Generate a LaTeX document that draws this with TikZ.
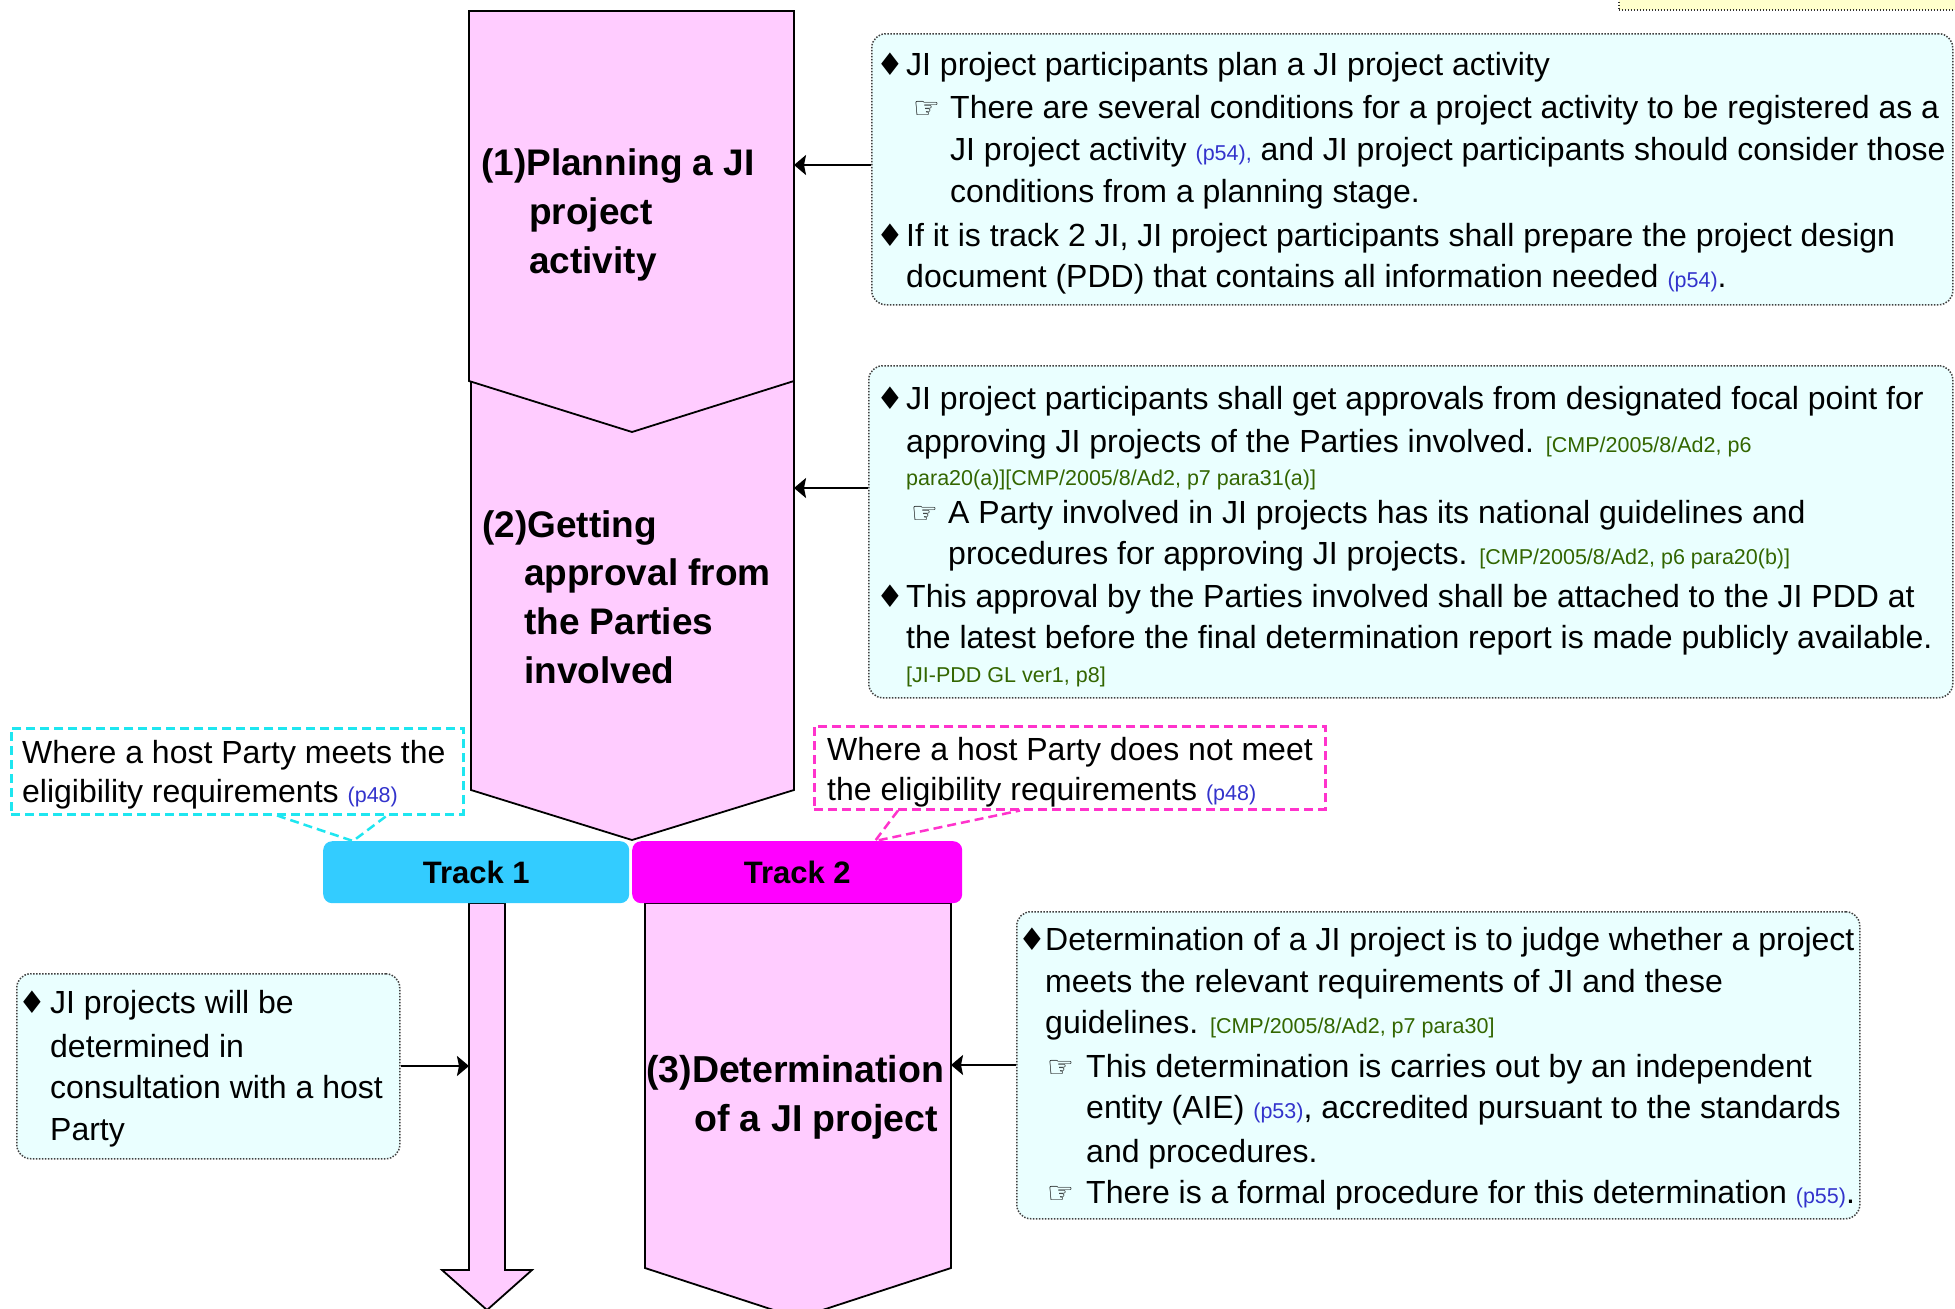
\documentclass[tikz,border=0pt]{standalone}
\usepackage{fontspec}
\setmainfont{Liberation Sans}
\newfontfamily\symf{DejaVu Sans}
\usetikzlibrary{arrows.meta}
\definecolor{pinkc}{RGB}{255,204,255}
\definecolor{boxc}{RGB}{234,255,255}
\definecolor{trackcyan}{RGB}{51,204,255}
\definecolor{trackmag}{RGB}{255,0,255}
\definecolor{calcyan}{RGB}{30,230,240}
\definecolor{calmag}{RGB}{255,51,204}
\definecolor{citeblue}{RGB}{51,51,204}
\definecolor{citegreen}{RGB}{51,102,0}
\definecolor{yellowc}{RGB}{255,255,204}
\newcommand\pgref[1]{{\fontsize{21.5}{24}\selectfont\color{citeblue}#1}}
\newcommand\cmpref[1]{{\fontsize{21.5}{24}\selectfont\color{citegreen}#1}}
\tikzset{
  ln/.style={anchor=base west, inner sep=0pt, font=\fontsize{32}{38}\selectfont},
  ttl/.style={anchor=base west, inner sep=0pt, font=\fontsize{37}{44}\selectfont\bfseries},
  ttlc/.style={anchor=base west, inner sep=0pt, font=\fontsize{37.5}{44}\selectfont\bfseries},
  dia/.style={anchor=base west, inner sep=0pt, font=\symf\fontsize{31}{34}\selectfont},
  hand/.style={anchor=base west, inner sep=0pt, font=\symf\fontsize{30}{34}\selectfont},
  pent/.style={fill=pinkc, draw=black, line width=1.8pt, line join=miter},
  infobox/.style={draw=black!75, fill=boxc, rounded corners=14pt, line width=1.5pt,
    dash pattern=on 1.5pt off 1.5pt, anchor=north west, inner sep=0pt},
  arr/.style={line width=2.2pt, -{Stealth[length=12pt,width=20pt,inset=2pt]}},
  cyandash/.style={draw=calcyan, line width=2.5pt, dash pattern=on 9pt off 5pt},
  magdash/.style={draw=calmag, line width=2.5pt, dash pattern=on 9pt off 5pt},
  track/.style={rounded corners=9pt, inner sep=0pt, anchor=north west,
    font=\fontsize{31}{36}\selectfont\bfseries},
}
\begin{document}
\begin{tikzpicture}[x=1pt,y=-1pt]
\useasboundingbox (0,0) rectangle (1955,1309);
\clip (0,0) rectangle (1955,1309);
\fill[white] (0,0) rectangle (1955,1309);

% yellow box top right
\node[draw=black!80, fill=yellowc, line width=1.5pt, dash pattern=on 1.5pt off 1.5pt,
  anchor=north west, minimum width=360pt, minimum height=40pt, inner sep=0pt] (ybox) at (1618,-31) {};

% pentagons
\draw[pent] (471,381) -- (794,381) -- (794,790) -- (632,840) -- (471,790) -- cycle;
\draw[pent] (469,11) -- (794,11) -- (794,381) -- (632,432) -- (469,381) -- cycle;
\draw[pent] (645,903) -- (951,903) -- (951,1268) -- (798,1318) -- (645,1268) -- cycle;
% track 1 arrow
\draw[pent] (469,903) -- (505,903) -- (505,1270) -- (532,1270) -- (487,1310) -- (442,1270) -- (469,1270) -- cycle;

% connection points on the stages
\coordinate (p1in) at (794,165);
\coordinate (p2in) at (794,488);
\coordinate (p3in) at (951,1065);
\coordinate (shaftin) at (469,1066);

% pentagon titles
\node[ttl] (p1a) at (481,175) {(1)Planning a JI};
\node[ttl] (p1b) at (529,224) {project};
\node[ttl] (p1c) at (529,273) {activity};
\node[ttl] (p2a) at (482,537) {(2)Getting};
\node[ttl] (p2b) at (524,585) {approval from};
\node[ttl] (p2c) at (524,634) {the Parties};
\node[ttl] (p2d) at (524,683) {involved};
\node[ttlc] (p3a) at (646,1082) {(3)Determination};
\node[ttlc] (p3b) at (694,1131) {of a JI project};

% tracks
\node[track, fill=trackcyan, minimum width=306pt, minimum height=62pt] (t1) at (323,841) {Track 1};
\node[track, fill=trackmag, minimum width=330pt, minimum height=62pt] (t2) at (632,841) {Track 2};
\coordinate (t1tip) at (353,841);
\coordinate (t2tip) at (875,841);

% callouts
\node[cyandash, anchor=north west, minimum width=452pt, minimum height=86pt, inner sep=0pt] (c1) at (10,727) {};
\draw[cyandash] ([xshift=267pt]c1.south west) -- (t1tip) -- ([xshift=377pt]c1.south west);
\node[ln] (c1a) at (22,763) {Where a host Party meets the};
\node[ln] (c1b) at (22,802) {eligibility requirements \pgref{(p48)}};

\node[magdash, anchor=north west, minimum width=511pt, minimum height=83pt, inner sep=0pt] (c2) at (813,725) {};
\draw[magdash] ([xshift=85pt]c2.south west) -- (t2tip) -- ([xshift=207pt]c2.south west);
\node[ln] (c2a) at (827,760) {Where a host Party does not meet};
\node[ln] (c2b) at (827,800) {the eligibility requirements \pgref{(p48)}};

% box 1
\node[infobox, minimum width=1081pt, minimum height=271pt] (b1) at (871,33) {};
\node[dia] (b1d1) at (876,75) {♦};
\node[ln] (b1l1) at (906,75) {JI project participants plan a JI project activity};
\node[hand] (b1h1) at (913,118) {☞};
\node[ln] (b1l2) at (950,118) {There are several conditions for a project activity to be registered as a};
\node[ln] (b1l3) at (950,160) {JI project activity \pgref{(p54),} and JI project participants should consider those};
\node[ln] (b1l4) at (950,202) {conditions from a planning stage.};
\node[dia] (b1d2) at (876,246) {♦};
\node[ln] (b1l5) at (906,246) {If it is track 2 JI, JI project participants shall prepare the project design};
\node[ln] (b1l6) at (906,287) {document (PDD) that contains all information needed \pgref{(p54)}.};
\draw[arr] (b1.west |- p1in) -- (p1in);

% box 2
\node[infobox, minimum width=1084pt, minimum height=332pt] (b2) at (868,365) {};
\node[dia] (b2d1) at (876,409) {♦};
\node[ln] (b2l1) at (906,409) {JI project participants shall get approvals from designated focal point for};
\node[ln] (b2l2) at (906,452) {approving JI projects of the Parties involved. \cmpref{[CMP/2005/8/Ad2, p6}};
\node[ln] (b2l3) at (906,485) {\cmpref{para20(a)][CMP/2005/8/Ad2, p7 para31(a)]}};
\node[hand] (b2h1) at (911,523) {☞};
\node[ln] (b2l4) at (948,523) {A Party involved in JI projects has its national guidelines and};
\node[ln] (b2l5) at (948,564) {procedures for approving JI projects. \cmpref{[CMP/2005/8/Ad2, p6 para20(b)]}};
\node[dia] (b2d2) at (876,607) {♦};
\node[ln] (b2l6) at (906,607) {This approval by the Parties involved shall be attached to the JI PDD at};
\node[ln] (b2l7) at (906,648) {the latest before the final determination report is made publicly available.};
\node[ln] (b2l8) at (906,682) {\cmpref{[JI-PDD GL ver1, p8]}};
\draw[arr] (b2.west |- p2in) -- (p2in);

% box 3
\node[infobox, minimum width=843pt, minimum height=307pt] (b3) at (1016,911) {};
\node[dia] (b3d1) at (1018,950) {♦};
\node[ln] (b3l1) at (1045,950) {Determination of a JI project is to judge whether a project};
\node[ln] (b3l2) at (1045,992) {meets the relevant requirements of JI and these};
\node[ln] (b3l3) at (1045,1033) {guidelines. \cmpref{[CMP/2005/8/Ad2, p7 para30]}};
\node[hand] (b3h1) at (1047,1077) {☞};
\node[ln] (b3l4) at (1086,1077) {This determination is carries out by an independent};
\node[ln] (b3l5) at (1086,1118) {entity (AIE) \pgref{(p53)}, accredited pursuant to the standards};
\node[ln] (b3l6) at (1086,1162) {and procedures.};
\node[hand] (b3h2) at (1047,1203) {☞};
\node[ln] (b3l7) at (1086,1203) {There is a formal procedure for this determination \pgref{(p55)}.};
\draw[arr] (b3.west |- p3in) -- (p3in);

% left box
\node[infobox, minimum width=383pt, minimum height=185pt] (b4) at (16,973) {};
\node[dia] (b4d1) at (18,1013) {♦};
\node[ln] (b4l1) at (50,1013) {JI projects will be};
\node[ln] (b4l2) at (50,1057) {determined in};
\node[ln] (b4l3) at (50,1098) {consultation with a host};
\node[ln] (b4l4) at (50,1140) {Party};
\draw[arr] (b4.east |- shaftin) -- (shaftin);
\end{tikzpicture}
\end{document}
